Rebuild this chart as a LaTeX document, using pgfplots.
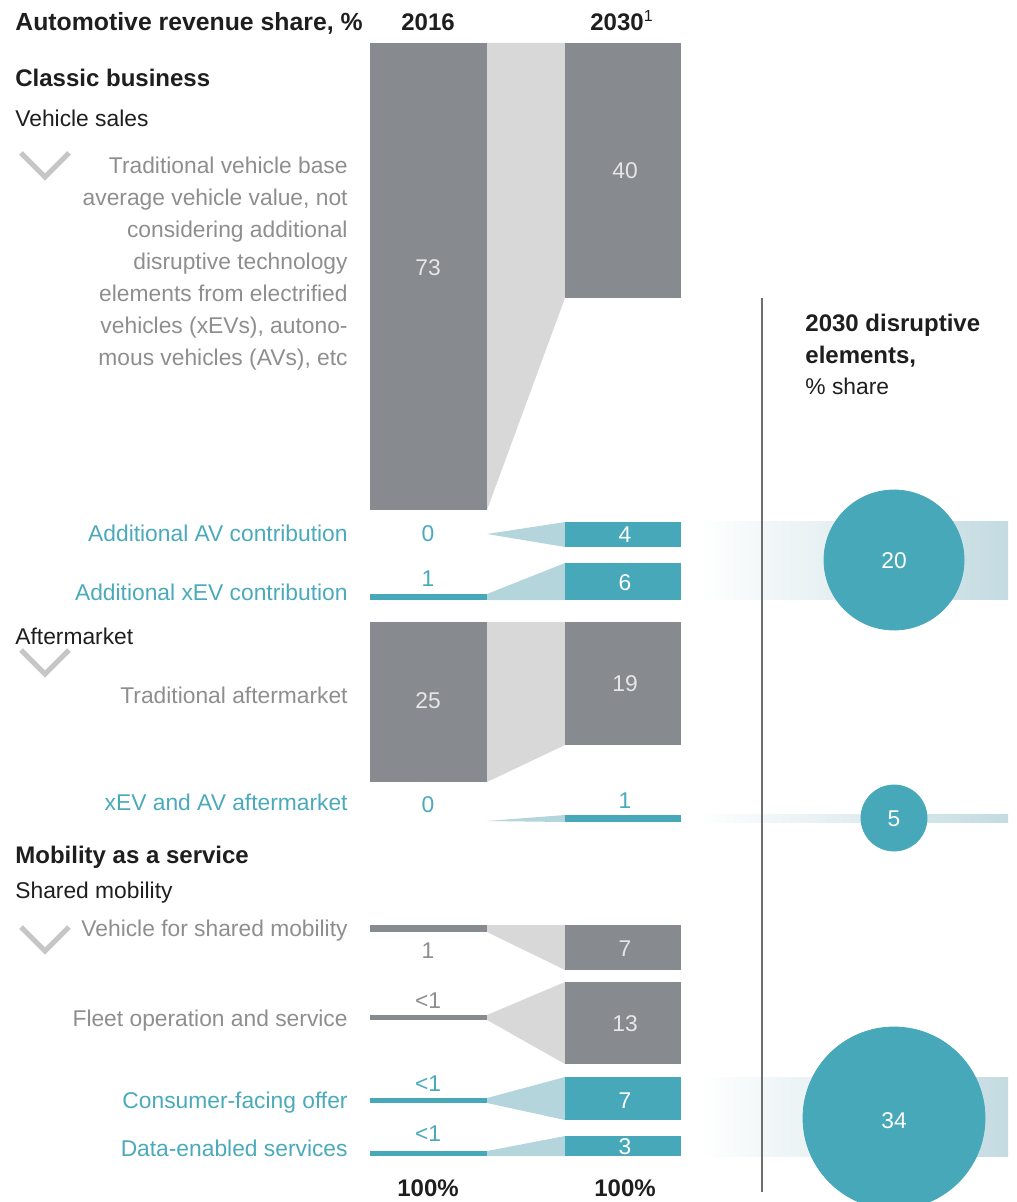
\documentclass[border=0pt]{standalone}
\usepackage{pgfplots}
\pgfplotsset{compat=1.18}
\usepackage{fontspec}
\setmainfont{Liberation Sans}
\definecolor{barg}{HTML}{878B8F}
\definecolor{cong}{HTML}{D8D8D8}
\definecolor{tealc}{HTML}{46A8B8}
\definecolor{contl}{HTML}{B5D5DC}
\definecolor{bandc}{HTML}{C3DBE1}
\definecolor{txtg}{HTML}{8E8E8E}
\definecolor{txtt}{HTML}{4AAABB}
\definecolor{numl}{HTML}{E6E6E6}
\definecolor{chev}{HTML}{C6C6C6}
\definecolor{blk}{HTML}{1E1E1E}
\definecolor{vline}{HTML}{6E6E6E}
\newcommand\lf{\fontsize{11.4}{14}\selectfont}
\newcommand\bff{\fontsize{12}{14}\selectfont\bfseries}
\newcommand\bfh{\fontsize{12.4}{14}\selectfont\bfseries}
% rectangle helper: x1 x2 ytop ybot
\newcommand\rect[5]{\addplot[draw=none,fill=#1] coordinates {(#2,#4)(#3,#4)(#3,#5)(#2,#5)} -- cycle;}
% connector: ytop2016 ybot2016 ytop2030 ybot2030
\newcommand\conn[5]{\addplot[draw=none,fill=#1] coordinates {(487,#2)(565,#4)(565,#5)(487,#3)} -- cycle;}
\begin{document}
\begin{tikzpicture}[every node/.style={inner sep=0pt,yshift=-1.5pt}]
\begin{axis}[width=508pt,height=601pt,scale only axis,
  xmin=0,xmax=1016,ymin=0,ymax=1202,y dir=reverse,
  hide axis, clip marker paths=true]
\addplot[draw=none] coordinates {(0,0)(1016,1202)};
% bands on the right
\addplot[draw=none,left color=white,right color=bandc] coordinates {(700,521)(1008,521)(1008,599)(700,599)} -- cycle;
\addplot[draw=none,left color=white,right color=bandc] coordinates {(700,814)(1008,814)(1008,822)(700,822)} -- cycle;
\addplot[draw=none,left color=white,right color=bandc] coordinates {(700,1077)(1008,1077)(1008,1156)(700,1156)} -- cycle;
% vertical line
\addplot[vline,line width=1pt] coordinates {(762,298)(762,1192)};
% Vehicle base: 73 -> 40
\conn{cong}{43}{510}{43}{298}
\rect{barg}{370}{487}{43}{510}
\rect{barg}{565}{681}{43}{298}
% AV: 0 -> 4
\conn{contl}{534}{534}{522}{547}
\rect{tealc}{565}{681}{522}{547}
% xEV: 1 -> 6
\conn{contl}{594}{600}{563}{600}
\rect{tealc}{370}{487}{594}{600}
\rect{tealc}{565}{681}{563}{600}
% Aftermarket: 25 -> 19
\conn{cong}{622}{782}{622}{745}
\rect{barg}{370}{487}{622}{782}
\rect{barg}{565}{681}{622}{745}
% xEV/AV aftermarket: 0 -> 1
\conn{contl}{821}{821}{815}{822}
\rect{tealc}{565}{681}{815}{822}
% Vehicle for shared mobility: 1 -> 7
\conn{cong}{925}{932}{925}{970}
\rect{barg}{370}{487}{925}{932}
\rect{barg}{565}{681}{925}{970}
% Fleet: <1 -> 13
\conn{cong}{1015}{1020}{982}{1064}
\rect{barg}{370}{487}{1015}{1020}
\rect{barg}{565}{681}{982}{1064}
% Consumer-facing: <1 -> 7
\conn{contl}{1098}{1103}{1077}{1120}
\rect{tealc}{370}{487}{1098}{1103}
\rect{tealc}{565}{681}{1077}{1120}
% Data-enabled: <1 -> 3
\conn{contl}{1151}{1156}{1136}{1156}
\rect{tealc}{370}{487}{1151}{1156}
\rect{tealc}{565}{681}{1136}{1156}
% circles
\addplot[only marks,mark=*,mark size=35pt,color=tealc] coordinates {(894,560)};
\addplot[only marks,mark=*,mark size=16.5pt,color=tealc] coordinates {(894,818)};
\addplot[only marks,mark=*,mark size=45.5pt,color=tealc] coordinates {(894,1118)};
% chevrons
\addplot[chev,line width=2.6pt] coordinates {(21,153)(45,177)(69,153)};
\addplot[chev,line width=2.6pt] coordinates {(21,650)(45,674)(69,650)};
\addplot[chev,line width=2.6pt] coordinates {(21,927)(45,951)(69,927)};
% header texts
\node[anchor=mid west,text=blk] at (axis cs:15,22) {\bfh Automotive revenue share, \%};
\node[anchor=mid,text=blk] at (axis cs:428,22) {\bff 2016};
\node[anchor=mid,text=blk] at (axis cs:622,22) {\bff 2030\textsuperscript{\mdseries 1}};
\node[anchor=mid west,text=blk] at (axis cs:15,78) {\bff Classic business};
\node[anchor=mid west,text=blk] at (axis cs:15,118) {\lf Vehicle sales};
\node[anchor=mid west,text=blk] at (axis cs:15,636) {\lf Aftermarket};
\node[anchor=mid west,text=blk] at (axis cs:15,855) {\bff Mobility as a service};
\node[anchor=mid west,text=blk] at (axis cs:15,890) {\lf Shared mobility};
\node[anchor=mid west,text=blk] at (axis cs:805,323) {\bff 2030 disruptive};
\node[anchor=mid west,text=blk] at (axis cs:805,355) {\bff elements,};
\node[anchor=mid west,text=blk] at (axis cs:805,386) {\lf \% share};
\node[anchor=mid,text=blk] at (axis cs:428,1188) {\bff 100\%};
\node[anchor=mid,text=blk] at (axis cs:625,1188) {\bff 100\%};
% gray description lines
\node[anchor=mid east,text=txtg] at (axis cs:348,165) {\lf Traditional vehicle base};
\node[anchor=mid east,text=txtg] at (axis cs:348,197) {\lf average vehicle value, not};
\node[anchor=mid east,text=txtg] at (axis cs:348,229) {\lf considering additional};
\node[anchor=mid east,text=txtg] at (axis cs:348,261) {\lf disruptive technology};
\node[anchor=mid east,text=txtg] at (axis cs:348,293) {\lf elements from electrified};
\node[anchor=mid east,text=txtg] at (axis cs:348,325) {\lf vehicles (xEVs), autono-};
\node[anchor=mid east,text=txtg] at (axis cs:348,357) {\lf mous vehicles (AVs), etc};
\node[anchor=mid east,text=txtt] at (axis cs:348,533) {\lf Additional AV contribution};
\node[anchor=mid east,text=txtt] at (axis cs:348,592) {\lf Additional xEV contribution};
\node[anchor=mid east,text=txtg] at (axis cs:348,695) {\lf Traditional aftermarket};
\node[anchor=mid east,text=txtt] at (axis cs:348,802) {\lf xEV and AV aftermarket};
\node[anchor=mid east,text=txtg] at (axis cs:348,928) {\lf Vehicle for shared mobility};
\node[anchor=mid east,text=txtg] at (axis cs:348,1018) {\lf Fleet operation and service};
\node[anchor=mid east,text=txtt] at (axis cs:348,1100) {\lf Consumer-facing offer};
\node[anchor=mid east,text=txtt] at (axis cs:348,1148) {\lf Data-enabled services};
% values 2016
\node[anchor=mid,text=numl] at (axis cs:428,267) {\lf 73};
\node[anchor=mid,text=txtt] at (axis cs:428,533) {\lf 0};
\node[anchor=mid,text=txtt] at (axis cs:428,578) {\lf 1};
\node[anchor=mid,text=numl] at (axis cs:428,700) {\lf 25};
\node[anchor=mid,text=txtt] at (axis cs:428,804) {\lf 0};
\node[anchor=mid,text=txtg] at (axis cs:428,950) {\lf 1};
\node[anchor=mid,text=txtg] at (axis cs:428,1000) {\lf <1};
\node[anchor=mid,text=txtt] at (axis cs:428,1083) {\lf <1};
\node[anchor=mid,text=txtt] at (axis cs:428,1133) {\lf <1};
% values 2030
\node[anchor=mid,text=numl] at (axis cs:625,170) {\lf 40};
\node[anchor=mid,text=white] at (axis cs:625,534) {\lf 4};
\node[anchor=mid,text=white] at (axis cs:625,582) {\lf 6};
\node[anchor=mid,text=numl] at (axis cs:625,683) {\lf 19};
\node[anchor=mid,text=txtt] at (axis cs:625,800) {\lf 1};
\node[anchor=mid,text=numl] at (axis cs:625,948) {\lf 7};
\node[anchor=mid,text=numl] at (axis cs:625,1023) {\lf 13};
\node[anchor=mid,text=white] at (axis cs:625,1100) {\lf 7};
\node[anchor=mid,text=white] at (axis cs:625,1146) {\lf 3};
% circle values
\node[anchor=mid,text=white] at (axis cs:894,560) {\lf 20};
\node[anchor=mid,text=white] at (axis cs:894,818) {\lf 5};
\node[anchor=mid,text=white] at (axis cs:894,1120) {\lf 34};
\end{axis}
\end{tikzpicture}
\end{document}
